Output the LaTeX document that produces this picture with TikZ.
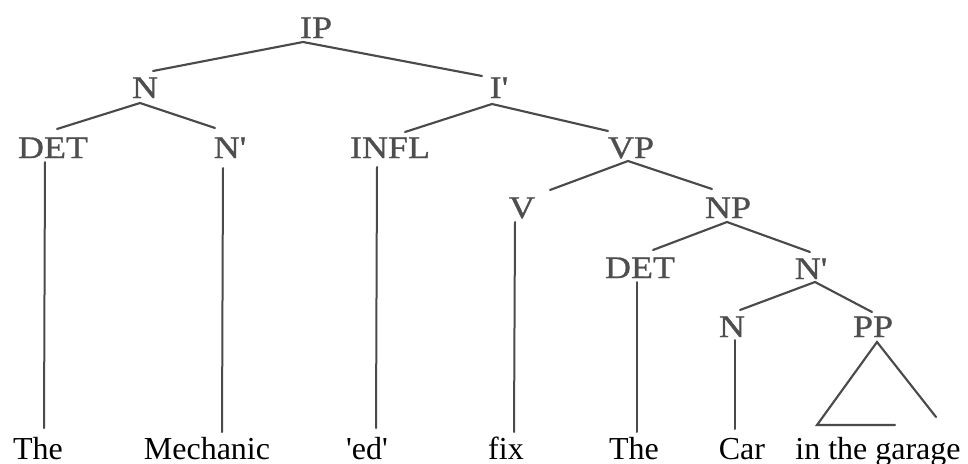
\documentclass[tikz,border=0pt]{standalone}
\usepackage{fontspec}
\usepackage{graphicx}
\setmainfont{Liberation Serif}
\newfontfamily\lblfont[FakeBold=0.9]{Liberation Serif}
\definecolor{lblgray}{HTML}{4E4E4E}
\definecolor{linegray}{HTML}{4A4A4A}
\newcommand\lbltext[1]{\scalebox{1.15}[1]{#1}}
\tikzset{
  lbl/.style={anchor=base, inner sep=0pt, text=lblgray, font=\lblfont\fontsize{23.5}{24}\selectfont},
  word/.style={anchor=base, inner sep=0pt, text=black, font=\fontsize{24}{25}\selectfont},
  branch/.style={draw=linegray, line width=1.6pt, line cap=round},
  stem/.style={draw=linegray, line width=1.5pt, line cap=round}
}
\begin{document}
\begin{tikzpicture}[x=0.75pt,y=-0.75pt]
\useasboundingbox (0,0) rectangle (968,464);
% labels
\node[lbl] (IP)   at (316,38)  {\lbltext{IP}};
\node[lbl] (N1)   at (145,98)  {\lbltext{N}};
\node[lbl] (I1)   at (499,98)  {\lbltext{I\textquotesingle}};
\node[lbl] (DET1) at (53,158)  {\lbltext{DET}};
\node[lbl] (Nb1)  at (230,158) {\lbltext{N\textquotesingle}};
\node[lbl] (INFL) at (390,158) {\lbltext{INFL}};
\node[lbl] (VP)   at (631,158) {\lbltext{VP}};
\node[lbl] (V)    at (522,218) {\lbltext{V}};
\node[lbl] (NP)   at (728,218) {\lbltext{NP}};
\node[lbl] (DET2) at (640,278) {\lbltext{DET}};
\node[lbl] (Nb2)  at (811,279) {\lbltext{N\textquotesingle}};
\node[lbl] (N2)   at (732,337) {\lbltext{N}};
\node[lbl] (PP)   at (873,337) {\lbltext{PP}};
% words
\node[word] (w1) at (38,459)  {The};
\node[word] (w2) at (207,459) {Mechanic};
\node[word] (w3) at (367,459) {\textquotesingle ed\textquotesingle};
\node[word] (w4) at (506,459) {fix};
\node[word] (w5) at (634,459) {The};
\node[word] (w6) at (742,459) {Car};
\node[word] (w7) at (878,459) {in the garage};
% joint coordinates
\coordinate (IPb)   at (303,42);
\coordinate (N1t)   at (153,71);
\coordinate (I1t)   at (482,76);
\coordinate (N1b)   at (140,103);
\coordinate (DET1t) at (57,129);
\coordinate (Nb1t)  at (215,128);
\coordinate (I1b)   at (492,104);
\coordinate (INFLt) at (405,132);
\coordinate (VPt)   at (608,131);
\coordinate (VPb)   at (628,161);
\coordinate (Vt)    at (550,190);
\coordinate (NPt)   at (712,189);
\coordinate (NPb)   at (727,222);
\coordinate (DET2t) at (653,250);
\coordinate (Nb2t)  at (810,252);
\coordinate (Nb2b)  at (815,282);
\coordinate (N2t)   at (740,310);
\coordinate (PPt)   at (872,312);
% stems
\coordinate (DET1b) at (45,162);  \coordinate (w1t) at (44,428);
\coordinate (Nb1b)  at (223,168); \coordinate (w2t) at (222,432);
\coordinate (INFLb) at (377,167); \coordinate (w3t) at (376,428);
\coordinate (Vb)    at (515,222); \coordinate (w4t) at (514,432);
\coordinate (DET2b) at (637,282); \coordinate (w5t) at (637,432);
\coordinate (N2b)   at (735,340); \coordinate (w6t) at (735,429);
% triangle
\coordinate (PPb)  at (877,342);
\coordinate (triL) at (817,425);
\coordinate (triB) at (895,425);
\coordinate (triR) at (936,417);
% branches
\draw[branch] (N1t) -- (IPb) -- (I1t);
\draw[branch] (DET1t) -- (N1b) -- (Nb1t);
\draw[branch] (INFLt) -- (I1b) -- (VPt);
\draw[branch] (Vt) -- (VPb) -- (NPt);
\draw[branch] (DET2t) -- (NPb) -- (Nb2t);
\draw[branch] (N2t) -- (Nb2b) -- (PPt);
\draw[stem] (DET1b) -- (w1t);
\draw[stem] (Nb1b) -- (w2t);
\draw[stem] (INFLb) -- (w3t);
\draw[stem] (Vb) -- (w4t);
\draw[stem] (DET2b) -- (w5t);
\draw[stem] (N2b) -- (w6t);
\draw[branch] (triB) -- (triL) -- (PPb) -- (triR);
\end{tikzpicture}
\end{document}
